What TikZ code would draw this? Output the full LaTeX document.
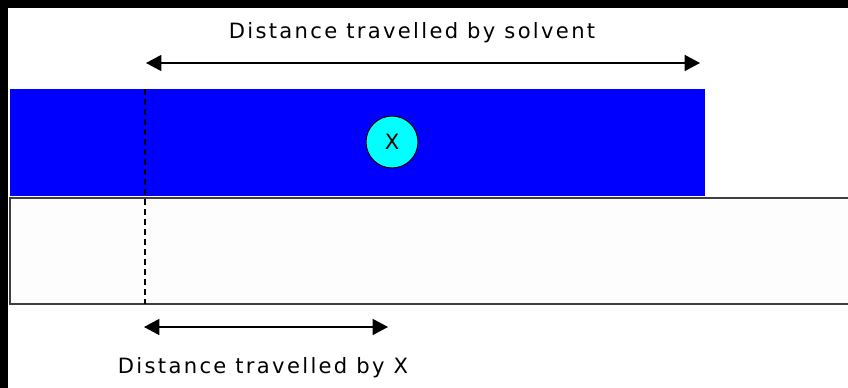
\documentclass[tikz,border=0pt]{standalone}
\usepackage{fontspec}
\newfontfamily\labelfont[LetterSpace=11]{DejaVu Sans}
\usetikzlibrary{positioning,arrows.meta}
\definecolor{solventblue}{RGB}{0,0,255}
\definecolor{spotcyan}{RGB}{0,255,255}
\definecolor{plategray}{RGB}{64,64,64}
\definecolor{platefill}{RGB}{253,253,253}

\begin{document}
\begin{tikzpicture}[x=0.3mm, y=-0.3mm,
  lbl/.style={font=\labelfont\fontsize{18}{20}\selectfont, inner sep=0pt},
  arr/.style={{Triangle[length=4.6mm, width=4.8mm]}-{Triangle[length=4.6mm, width=4.8mm]},
              line width=0.45mm},
  spot/.style={circle, draw, fill=spotcyan, minimum size=15.6mm, inner sep=0pt,
               line width=0.3mm, font=\labelfont\fontsize{18}{20}\selectfont}
]
  \clip (0,0) rectangle (848,388);
  % frame
  \fill[black] (0,0) rectangle (848,388);
  \fill[white] (8,8) rectangle (848,388);
  % solvent and plate
  \fill[solventblue] (10,89) rectangle (705,196);
  \draw[plategray, fill=platefill, line width=0.6mm] (10,198) rectangle (860,304);
  \coordinate (baseTop) at (145,89);
  \coordinate (baseBot) at (145,304);
  \draw[dash pattern=on 1.8mm off 1.2mm, line width=0.4mm] (baseTop) -- (baseBot);
  \node[spot] (spotX) at (392,142) {X};
  % distances
  \coordinate (solvL) at (146,63);
  \coordinate (solvR) at (700,63);
  \coordinate (spotL) at (144,327);
  \coordinate (spotR) at (388,327);
  \draw[arr] (solvL) -- (solvR);
  \draw[arr] (spotL) -- (spotR);
  \node[lbl] (lblSolvent) at (412,33) {Distance travelled by solvent};
  \node[lbl] (lblSpot) at (263,368) {Distance travelled by X};
\end{tikzpicture}
\end{document}
